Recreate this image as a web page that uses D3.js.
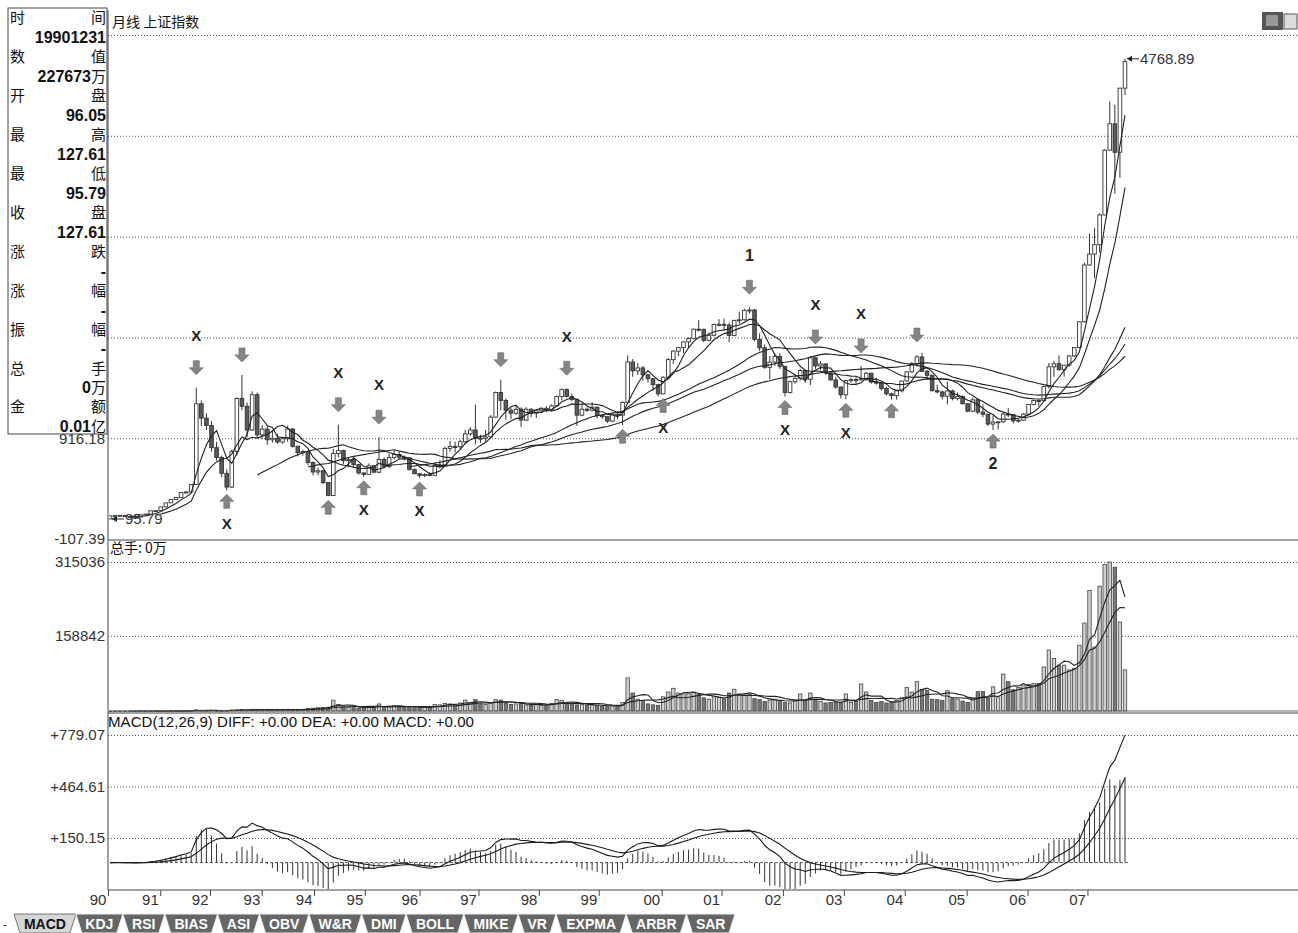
<!DOCTYPE html>
<html>
<head>
<meta charset="utf-8">
<script src="https://d3js.org/d3.v7.min.js"></script>
<title>月线 上证指数</title>
<style>
  body{margin:0;background:#fff;}
  svg{display:block;}
  text{font-family:"Liberation Sans",Arial,sans-serif;}
  .cn{font-family:"Noto Sans CJK SC",sans-serif;}
</style>
</head>
<body>
<svg id="chart" width="1298" height="933"></svg>
<script>
// monthly bars, index 0 = 1990-12 ... index 200 = 2007-08
var open = [96.05,
  127.61,129.97,133.01,120.19,113.94,114.83,137.56,145.48,178.43,180.92,218.60,259.60,
  292.75,313.24,364.49,370.31,445.09,1265.68,1120,1045,820,720,560,420,
  780.39,1320,1240,1000,1358,950,1008,900,915,878,910,1010,
  833.80,770,780,670,573,586,467,333.92,760,790,688,700,
  647.87,563,549,637,571,700,630,721,750,723,716,597,
  555.29,537.35,548,539,640,644,813,832,830,880,960,1000,
  917,915,930,1130,1380,1300,1200,1170,1210,1100,1210,1170,
  1194,1220,1205,1245,1340,1410,1340,1310,1150,1210,1200,1230,
  1146,1135,1090,1160,1150,1280,1690,1600,1630,1560,1520,1460,
  1366.58,1535,1714,1800,1836,1894,1928,2023,2021,1910,1961,2070,
  2073,2065,1960,2112,2119,2214,2218,1920,1834,1636,1689,1747,
  1646,1380,1490,1524,1604,1515,1733,1650,1670,1581,1508,1436,
  1357,1500,1511,1510,1521,1576,1486,1476,1421,1367,1349,1397,
  1497,1590,1675,1741,1595,1555,1399,1386,1342,1396,1320,1340,
  1266,1191,1306,1181,1159,1060,1080,1083,1162,1155,1092,1099,
  1161,1258,1299,1298,1440,1641,1672,1612,1658,1752,1837,2099,
  2675,2786,2881,3183,3841,4109,3820,4471];
var high = [127.61,
  135.19,134.87,133.5,120.5,117.0,137.56,145.48,178.43,181.5,218.6,259.6,292.75,
  313.5,365,375,445.5,1429.01,1300,1170,1090,880,740,600,800,
  1330,1558.95,1280,1392,1380,1050,1040,1000,960,930,1044,1020,
  840,800,790,680,620,595,470,808,1052.94,800,720,720,
  650,570,660,640,926.41,720,760,790,780,740,720,610,
  560,560,570,660,690,830,890,880,900,1000,1030,1258.68,
  950,1000,1150,1390,1510.18,1320,1230,1250,1230,1230,1220,1200,
  1230,1240,1260,1350,1420,1422.98,1370,1320,1260,1230,1280,1240,
  1160,1140,1170,1190,1290,1756.18,1720,1680,1650,1570,1530,1470,
  1545,1730,1810,1840,1900,1940,2030,2114,2030,1990,2080,2125,
  2131,2090,2120,2200,2230,2245.43,2230,1980,1870,1750,1776,1780,
  1650,1500,1560,1620,1610,1748.89,1740,1700,1680,1600,1540,1440,
  1510,1530,1540,1649.6,1590,1580,1530,1490,1440,1380,1400,1500,
  1600,1690,1760,1783.01,1610,1560,1460,1400,1490,1410,1380,1350,
  1270,1330,1320,1260,1160,1150,1090,1180,1223,1160,1110,1170,
  1260,1310,1310,1445,1680,1700,1757,1660,1760,1840,2100,2698,
  2994,3049,3200,3850,4335,4300,4471,4768.89];
var low = [95.79,
  127.61,129.5,120.0,105.77,104.96,114.5,136,145,176,180,218,259,
  292,312,360,368,445,1040,1000,781,690,520,386.85,410,
  740,1200,925,990,920,910,850,870,860,860,880,820,
  730,740,640,540,540,450,325.89,330,720,650,620,620,
  545,524.43,545,560,560,620,610,700,700,690,590,550,
  512.83,520,530,535,610,640,780,770,800,860,940,855,
  870,880,925,1120,1200,1100,1110,1150,1030,1090,1130,1120,
  1170,1180,1190,1240,1300,1330,1290,1043,1140,1180,1190,1120,
  1110,1070,1080,1110,1047.83,1275,1540,1560,1500,1480,1400,1341,
  1361,1520,1670,1750,1780,1830,1920,2000,1890,1900,1950,2050,
  2010,1890,1950,2080,2110,2180,1900,1800,1620,1514,1650,1620,
  1339.2,1370,1470,1500,1480,1455,1620,1610,1560,1500,1420,1320,
  1311.68,1480,1470,1500,1500,1470,1460,1400,1350,1307,1307.4,1380,
  1490,1580,1640,1590,1510,1390,1370,1310,1260,1300,1300,1259,
  1180,1180,1160,1130,1040,998.23,1004,1070,1130,1067,1074,1090,
  1150,1250,1240,1290,1420,1540,1600,1540,1640,1740,1830,2090,
  2670,2541,2800,3180,3840,3400,3560,4400];
var close = [127.61,
  129.97,133.01,120.19,113.94,114.83,137.56,145.48,178.43,180.92,218.60,259.60,292.75,
  313.24,364.49,370.31,445.09,1265.68,1120,1045,820,720,560,420,780.39,
  1320,1240,1000,1358,950,1008,900,915,878,910,1010,833.80,
  770,780,670,573,586,467,333.92,760,790,688,700,647.87,
  563,549,637,571,700,630,721,750,723,716,597,555.29,
  537.35,548,539,640,644,813,832,830,880,960,1000,917,
  915,930,1130,1380,1300,1200,1170,1210,1100,1210,1170,1194,
  1220,1205,1245,1340,1410,1340,1310,1150,1210,1200,1230,1146,
  1135,1090,1160,1150,1280,1690,1600,1630,1560,1520,1460,1366.58,
  1535,1714,1800,1836,1894,1928,2023,2021,1910,1961,2070,2073,
  2065,1960,2112,2119,2214,2218,1920,1834,1636,1689,1747,1646,
  1380,1490,1524,1604,1515,1733,1650,1670,1581,1508,1436,1357,
  1500,1511,1510,1521,1576,1486,1476,1421,1367,1349,1397,1497,
  1590,1675,1741,1595,1555,1399,1386,1342,1396,1320,1340,1266,
  1191,1306,1181,1159,1060,1080,1083,1162,1155,1092,1099,1161,
  1258,1299,1298,1440,1641,1672,1612,1658,1752,1837,2099,2675,
  2786,2881,3183,3841,4109,3820,4471,4740];
// 总手 (万手)
var volume = [0,
  10,20,30,20,20,30,40,60,80,100,150,200,
  300,400,500,800,2500,1500,1200,1500,800,700,900,1800,
  2500,3000,2200,3500,2500,2200,2000,2500,2000,2200,3500,2500,
  3000,3500,5000,6000,7000,7500,8000,23000,14000,9000,8000,7000,
  6000,6500,9000,8000,15000,9000,10000,11000,10000,9000,8000,7000,
  7000,8000,9000,14000,13000,16000,15000,13000,17000,23000,18000,24000,
  15000,14000,17000,24000,23000,17000,14000,15000,16000,13000,12000,14000,
  12000,13000,16000,24000,22000,17000,15000,13000,14000,12000,13000,12000,
  10000,9000,11000,11000,18000,70000,38000,25000,22000,15000,13000,12000,
  30000,40000,48000,38000,36000,37000,40000,35000,28000,25000,30000,29000,
  26000,38000,46000,36000,36000,35000,26000,24000,20000,23000,25000,22000,
  18000,17000,23000,36000,22000,38000,24000,20000,17000,18000,19000,17000,
  36000,18000,20000,57000,40000,22000,18000,20000,17000,19000,22000,28000,
  50000,40000,62000,46000,44000,25000,24000,22000,43000,26000,25000,21000,
  18000,27000,41000,41000,27000,51000,30000,78000,62000,45000,50000,55000,
  56000,58000,58000,93000,129000,111000,97000,97000,87000,90000,139000,186000,
  255000,135000,264000,310000,315036,304000,188000,87000];

var maPeriods = [5, 10, 30, 40, 60];
var volMaPeriods = [5, 10];

var priceTicks = [916.18, 1939.75, 2963.32, 3986.89, 5010.46];
var priceMin = -107.39;
var volTicks = [158842, 315036];
var macdTicks = [150.15, 464.61, 779.07];

var yearLabels = ['90','91','92','93','94','95','96','97','98','99','00','01','02','03','04','05','06','07'];
var yearTickIdx = [-0.4, 9.9, 19.7, 29.9, 40.2, 50.2, 61, 72.6, 84.5, 96.3, 108.7, 120.5, 132.6, 144.6, 156.6, 168.8, 180.8, 192.6];

// arrows drawn on the price panel
var annIdx  = [17, 23, 26, 43, 45, 50, 53, 61, 77, 90, 101, 109, 126, 133, 139, 145, 148, 154, 159, 174];
var annDir  = ['d','u','d','u','d','u','d','u','d','d','u','u','d','u','d','u','d','u','d','u'];
var annText = ['X','X','','','X','X','X','X','','X','','X','1','X','X','X','X','','','2'];

var infoLeft  = ['时','数','开','最','最','收','涨','涨','振','总','金'];
var infoRight = ['间','值','盘','高','低','盘','跌','幅','幅','手','额'];
var infoValue = ['19901231','227673','96.05','127.61','95.79','127.61','-','-','-','0','0.01'];
var infoUnit  = ['','万','','','','','','','','万','亿'];

var tabNames = ['MACD','KDJ','RSI','BIAS','ASI','OBV','W&R','DMI','BOLL','MIKE','VR','EXPMA','ARBR','SAR'];

// ---------------------------------------------------------------
var svg = d3.select('#chart');
var L = 108, R = 1298;
var n = close.length;

var x  = d3.scaleLinear().domain([0, n - 1]).range([110, 1125]);
var yP = d3.scaleLinear().domain([priceMin, 5010.46]).range([539, 35]);
var yV = d3.scaleLinear().domain([0, 315036]).range([711, 562]);
var yM = d3.scaleLinear().domain([0, 779.07]).range([862.6, 735]);

function movAvg(arr, p){
  var out = [];
  for (var i = p - 1; i < arr.length; i++){
    out.push({i: i, v: d3.mean(arr.slice(i - p + 1, i + 1))});
  }
  return out;
}
function ema(arr, p){
  var k = 2 / (p + 1), out = [arr[0]];
  for (var i = 1; i < arr.length; i++) out.push(arr[i] * k + out[i - 1] * (1 - k));
  return out;
}

// clip paths for panels
var defs = svg.append('defs');
defs.append('clipPath').attr('id','cpP').append('rect').attr('x',L+1).attr('y',30).attr('width',R-L).attr('height',509);
defs.append('clipPath').attr('id','cpV').append('rect').attr('x',L+1).attr('y',560).attr('width',R-L).attr('height',152);
defs.append('clipPath').attr('id','cpM').append('rect').attr('x',L+1).attr('y',726).attr('width',R-L).attr('height',163);

// ---- grid + y axes
function gridAxis(scale, ticks, fmt){
  var g = svg.append('g').attr('transform','translate(' + L + ',0)')
    .call(d3.axisLeft(scale).tickValues(ticks).tickSize(-(R - L)).tickPadding(3).tickFormat(fmt));
  g.select('.domain').remove();
  g.selectAll('.tick line').attr('stroke','#555').attr('stroke-dasharray','1,2');
  g.selectAll('.tick text').attr('font-size',15).attr('fill','#333')
    .attr('font-family','"Liberation Sans",Arial,sans-serif');
  return g;
}
gridAxis(yP, priceTicks, function(d){ return d.toFixed(2); });
gridAxis(yV, volTicks, function(d){ return d3.format('d')(d); });
gridAxis(yM, macdTicks, function(d){ return '+' + d.toFixed(2); });

svg.append('text').attr('x',105).attr('y',yP(priceMin)).attr('dy','0.32em')
  .attr('text-anchor','end').attr('font-size',15).attr('fill','#333').text(priceMin.toFixed(2));

// panel frame lines
svg.append('line').attr('x1',L).attr('x2',L).attr('y1',10).attr('y2',890).attr('stroke','#444');
[540, 713, 890].forEach(function(yy){
  svg.append('line').attr('x1',L).attr('x2',R).attr('y1',yy).attr('y2',yy).attr('stroke','#444');
});

// ---- price panel
var gP = svg.append('g').attr('clip-path','url(#cpP)');
var bw = 3.6;
var idx = d3.range(n);
var candles = gP.selectAll('g.c').data(idx).enter().append('g').attr('class','c');
candles.append('line')
  .attr('x1', function(i){ return x(i); }).attr('x2', function(i){ return x(i); })
  .attr('y1', function(i){ return yP(high[i]); })
  .attr('y2', function(i){ return yP(Math.max(open[i], close[i])); })
  .attr('stroke','#333');
candles.append('line')
  .attr('x1', function(i){ return x(i); }).attr('x2', function(i){ return x(i); })
  .attr('y1', function(i){ return yP(Math.min(open[i], close[i])); })
  .attr('y2', function(i){ return yP(low[i]); })
  .attr('stroke','#333');
candles.append('rect')
  .attr('x', function(i){ return x(i) - bw / 2; })
  .attr('width', bw)
  .attr('y', function(i){ return yP(Math.max(open[i], close[i])); })
  .attr('height', function(i){ return Math.max(1, Math.abs(yP(open[i]) - yP(close[i]))); })
  .attr('fill', function(i){ return close[i] >= open[i] ? '#fff' : '#5a5a5a'; })
  .attr('stroke','#333').attr('stroke-width',0.9);

var maLine = d3.line().x(function(d){ return x(d.i); }).y(function(d){ return yP(d.v); });
maPeriods.forEach(function(p){
  gP.append('path').datum(movAvg(close, p)).attr('d', maLine)
    .attr('fill','none').attr('stroke','#222').attr('stroke-width',1.1);
});

// min / max markers
function marker(i, v, yy){
  var x0 = x(i) + 2;
  svg.append('line').attr('x1',x0).attr('x2',x0 + 12).attr('y1',yy).attr('y2',yy).attr('stroke','#222');
  svg.append('path').attr('d','M' + x0 + ',' + yy + 'l5,-3l0,6z').attr('fill','#222');
  svg.append('text').attr('x',x0 + 13).attr('y',yy).attr('dy','0.35em')
    .attr('font-size',15).attr('fill','#333').text(v.toFixed(2));
}
var iMin = d3.minIndex(low), iMax = d3.maxIndex(high);
marker(iMin, low[iMin], yP(low[iMin]));
marker(iMax, high[iMax], yP(high[iMax]));

// arrows
var gA = svg.append('g');
annIdx.forEach(function(i, k){
  var cx = x(i), cy, d, ty;
  if (annDir[k] === 'd'){
    cy = yP(high[i]) - 20;
    d = 'M' + (cx-3) + ',' + (cy-7) + 'h6v7h4l-7,7l-7,-7h4z';
    ty = cy - 32;
  } else {
    cy = yP(low[i]) + 11;
    d = 'M' + (cx-3) + ',' + (cy+7) + 'h6v-7h4l-7,-7l-7,7h4z';
    ty = cy + 22;
  }
  gA.append('path').attr('d', d).attr('fill','#858585').attr('stroke','#6a6a6a').attr('stroke-width',0.6);
  if (annText[k]){
    gA.append('text').attr('x', cx).attr('y', ty).attr('dy','0.35em').attr('text-anchor','middle')
      .attr('font-size', annText[k] === 'X' ? 15 : 16).attr('font-weight','bold')
      .attr('font-family', annText[k] === 'X' ? '"Liberation Serif",serif' : '"Liberation Sans",Arial')
      .attr('fill','#222').text(annText[k]);
  }
});

// ---- volume panel
var gV = svg.append('g').attr('clip-path','url(#cpV)');
gV.selectAll('rect').data(idx).enter().append('rect')
  .attr('x', function(i){ return x(i) - 1.7; })
  .attr('width', 3.4)
  .attr('y', function(i){ return yV(volume[i]); })
  .attr('height', function(i){ return Math.max(0.8, yV(0) - yV(volume[i])); })
  .attr('fill', function(i){ return close[i] >= open[i] ? '#d0d0d0' : '#777'; })
  .attr('stroke','#444').attr('stroke-width',0.8);
var vLine = d3.line().x(function(d){ return x(d.i); }).y(function(d){ return yV(d.v); });
volMaPeriods.forEach(function(p){
  gV.append('path').datum(movAvg(volume, p)).attr('d', vLine)
    .attr('fill','none').attr('stroke','#222').attr('stroke-width',1.1);
});
svg.append('line').attr('x1',110).attr('x2',R).attr('y1',711).attr('y2',711).attr('stroke','#666');

// ---- MACD panel
var e12 = ema(close, 12), e26 = ema(close, 26);
var diff = e12.map(function(v, i){ return v - e26[i]; });
var dea = ema(diff, 9);
var macd = diff.map(function(v, i){ return 2 * (v - dea[i]); });

var gM = svg.append('g').attr('clip-path','url(#cpM)');
gM.append('line').attr('x1',110).attr('x2',1130).attr('y1',yM(0)).attr('y2',yM(0))
  .attr('stroke','#555').attr('stroke-dasharray','3,2');
gM.selectAll('line.h').data(idx).enter().append('line').attr('class','h')
  .attr('x1', function(i){ return x(i); }).attr('x2', function(i){ return x(i); })
  .attr('y1', yM(0)).attr('y2', function(i){ return yM(macd[i]); })
  .attr('stroke','#333').attr('stroke-width',1);
var mLine = d3.line().x(function(d, i){ return x(i); }).y(function(d){ return yM(d); });
[diff, dea].forEach(function(s){
  gM.append('path').datum(s).attr('d', mLine).attr('fill','none').attr('stroke','#1a1a1a').attr('stroke-width',1.1);
});

// ---- x axis (years)
var gx = svg.append('g').attr('transform','translate(0,890)')
  .call(d3.axisBottom(x).tickValues(yearTickIdx).tickSize(6)
    .tickFormat(function(d, i){ return yearLabels[i]; }));
gx.select('.domain').remove();
gx.selectAll('.tick line').attr('stroke','#444');
gx.selectAll('.tick text').attr('text-anchor','end').attr('x',-2).attr('y',3).attr('dy','0.8em')
  .attr('font-size',15).attr('fill','#333')
  .attr('font-family','"Liberation Sans Narrow","Liberation Sans",Arial');

// ---- panel titles
svg.append('text').attr('class','cn').attr('x',112).attr('y',22).attr('dy','0.35em')
  .attr('font-size',14).attr('fill','#111').text('月线  上证指数');
svg.append('text').attr('class','cn').attr('x',110).attr('y',548).attr('dy','0.35em')
  .attr('font-size',14).attr('fill','#111').text('总手: 0万');
svg.append('text').attr('x',108).attr('y',722).attr('dy','0.35em')
  .attr('font-size',14).attr('fill','#111')
  .attr('textLength',366).attr('lengthAdjust','spacingAndGlyphs')
  .text('MACD(12,26,9) DIFF: +0.00 DEA: +0.00 MACD: +0.00');

// ---- info box
svg.append('rect').attr('x',8).attr('y',8).attr('width',99).attr('height',426)
  .attr('fill','#fff').attr('stroke','#444');
infoLeft.forEach(function(c, k){
  var yy = 18 + k * 38.9;
  svg.append('text').attr('class','cn').attr('x',10).attr('y',yy).attr('dy','0.36em')
    .attr('font-size',15).attr('fill','#111').text(c);
  svg.append('text').attr('class','cn').attr('x',106).attr('y',yy).attr('dy','0.36em')
    .attr('text-anchor','end').attr('font-size',15).attr('fill','#111').text(infoRight[k]);
  var vx = infoUnit[k] ? 91 : 106;
  svg.append('text').attr('x',vx).attr('y',yy + 19.5).attr('dy','0.36em').attr('text-anchor','end')
    .attr('font-size',16).attr('font-weight','bold').attr('fill','#111').text(infoValue[k]);
  if (infoUnit[k]){
    svg.append('text').attr('class','cn').attr('x',106).attr('y',yy + 19.5).attr('dy','0.36em')
      .attr('text-anchor','end').attr('font-size',15).attr('fill','#111').text(infoUnit[k]);
  }
});

// ---- top-right icon
svg.append('rect').attr('x',1262).attr('y',12).attr('width',21).attr('height',18).attr('fill','#555');
svg.append('rect').attr('x',1266).attr('y',15).attr('width',12).attr('height',11).attr('fill','#999');
svg.append('rect').attr('x',1284).attr('y',14).attr('width',13).attr('height',15)
  .attr('fill','#ddd').attr('stroke','#555');

// ---- indicator tabs
svg.append('text').attr('x',3).attr('y',925).attr('dy','0.35em').attr('font-size',12).attr('fill','#333').text('-');
var gT = svg.append('g');
var tmp = gT.append('text').attr('font-size',14).attr('font-weight','bold')
  .attr('font-family','"Liberation Sans Narrow","Liberation Sans",Arial');
var tw = tabNames.map(function(t){ tmp.text(t); return tmp.node().getComputedTextLength() + 16; });
tmp.remove();
var sc = (735 - 14) / d3.sum(tw), tx = 14;
tabNames.forEach(function(t, k){
  var w = tw[k] * sc, x0 = tx, x1 = tx + w, sel = k === 0;
  gT.append('path')
    .attr('d','M' + x0 + ',914L' + x1 + ',914L' + (x1 - 6) + ',933L' + (x0 + 6) + ',933Z')
    .attr('fill', sel ? '#d6d6d6' : '#666').attr('stroke', sel ? '#777' : '#eee').attr('stroke-width',1);
  gT.append('text').attr('x',(x0 + x1) / 2).attr('y',924).attr('dy','0.35em').attr('text-anchor','middle')
    .attr('font-size',14).attr('font-weight','bold')
    .attr('font-family','"Liberation Sans Narrow","Liberation Sans",Arial')
    .attr('fill', sel ? '#111' : '#fff').text(t);
  tx = x1;
});
</script>
</body>
</html>
